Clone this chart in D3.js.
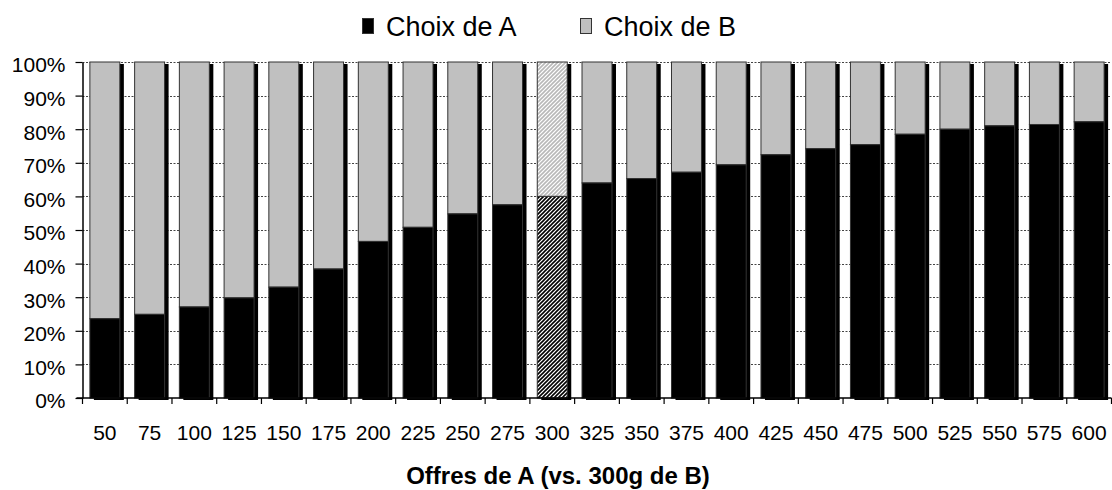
<!DOCTYPE html>
<html>
<head>
<meta charset="utf-8">
<script src="https://cdn.jsdelivr.net/npm/d3@7/dist/d3.min.js"></script>
<style>
  html, body { margin: 0; padding: 0; background: #fff; }
  svg { display: block; font-family: "Liberation Sans", Arial, sans-serif; }
</style>
</head>
<body>
<svg id="chart" width="1112" height="490"></svg>
<script>
// Offers of A (grams) compared against a fixed 300g of B
const offers = ["50","75","100","125","150","175","200","225","250","275","300",
                "325","350","375","400","425","450","475","500","525","550","575","600"];
// Share of respondents choosing A (%)
const choixA = [23.6, 24.9, 27.1, 29.8, 33.0, 38.4, 46.6, 50.8, 54.8, 57.5, 60.0,
                64.0, 65.3, 67.2, 69.4, 72.4, 74.2, 75.4, 78.5, 80.0, 81.0, 81.4, 82.2];
// Share of respondents choosing B (%)
const choixB = [76.4, 75.1, 72.9, 70.2, 67.0, 61.6, 53.4, 49.2, 45.2, 42.5, 40.0,
                36.0, 34.7, 32.8, 30.6, 27.6, 25.8, 24.6, 21.5, 20.0, 19.0, 18.6, 17.8];
const seriesNames = ["Choix de A", "Choix de B"];
const yTicks = [0, 10, 20, 30, 40, 50, 60, 70, 80, 90, 100];
const equalOffer = "300"; // same weight on both sides, drawn hatched
const xTitle = "Offres de A (vs. 300g de B)";

const svg = d3.select("#chart");
const plot = { left: 82.5, right: 1111.5, top: 62, bottom: 398 };

const x = d3.scaleBand()
  .domain(offers)
  .range([plot.left, plot.right])
  .paddingInner(0.33)
  .paddingOuter(0.165);

const y = d3.scaleLinear().domain([0, 100]).range([plot.bottom, plot.top]);

const rows = offers.map((o, i) => ({ offer: o, a: choixA[i], b: choixB[i] }));

// hatch patterns for the equal-weight bar
const defs = svg.append("defs");
function hatch(id, color) {
  const p = defs.append("pattern")
    .attr("id", id)
    .attr("patternUnits", "userSpaceOnUse")
    .attr("width", 4).attr("height", 4);
  p.append("rect").attr("width", 4).attr("height", 4).attr("fill", "#fff");
  p.append("path")
    .attr("d", "M-1,1 l2,-2 M0,4 l4,-4 M3,5 l2,-2")
    .attr("stroke", color).attr("stroke-width", 1.6);
}
hatch("hatchA", "#000");
hatch("hatchB", "#b8b8b8");

// horizontal dotted gridlines
svg.append("g")
  .selectAll("line")
  .data(yTicks.filter(t => t > 0))
  .join("line")
  .attr("x1", plot.left).attr("x2", plot.right)
  .attr("y1", d => Math.round(y(d)) + 0.5).attr("y2", d => Math.round(y(d)) + 0.5)
  .attr("stroke", "#444")
  .attr("stroke-width", 1)
  .attr("stroke-dasharray", "2,1.5");

// drop shadows behind each stacked bar
const shadowDx = 4, shadowDy = 2;
svg.append("g")
  .selectAll("rect")
  .data(rows)
  .join("rect")
  .attr("x", d => x(d.offer) + shadowDx)
  .attr("y", d => y(d.a + d.b) + shadowDy)
  .attr("width", x.bandwidth())
  .attr("height", d => y(0) - y(d.a + d.b))
  .attr("fill", "#000");

// stacked bars
const bars = svg.append("g");
// Choix de B (top segment)
bars.selectAll("rect.b")
  .data(rows)
  .join("rect")
  .attr("class", "b")
  .attr("x", d => x(d.offer))
  .attr("y", d => y(d.a + d.b))
  .attr("width", x.bandwidth())
  .attr("height", d => y(d.a) - y(d.a + d.b))
  .attr("fill", d => d.offer === equalOffer ? "url(#hatchB)" : "#c0c0c0")
  .attr("stroke", "#333")
  .attr("stroke-width", 1);
// Choix de A (bottom segment)
bars.selectAll("rect.a")
  .data(rows)
  .join("rect")
  .attr("class", "a")
  .attr("x", d => x(d.offer))
  .attr("y", d => y(d.a))
  .attr("width", x.bandwidth())
  .attr("height", d => y(0) - y(d.a))
  .attr("fill", d => d.offer === equalOffer ? "url(#hatchA)" : "#000")
  .attr("stroke", "#333")
  .attr("stroke-width", 1);

// y axis
const yAxis = svg.append("g")
  .attr("transform", `translate(${plot.left},0)`)
  .call(d3.axisLeft(y).tickValues(yTicks).tickFormat(d => d + "%").tickSize(7).tickSizeOuter(0));
yAxis.select(".domain").attr("stroke", "#000").attr("stroke-width", 1.5);
yAxis.selectAll(".tick line").attr("stroke", "#000").attr("stroke-width", 1.2);
yAxis.selectAll(".tick text")
  .attr("x", -17)
  .attr("dy", "0.47em")
  .attr("fill", "#000")
  .style("font-size", "21px")
  .style("font-family", "'Liberation Sans', Arial, sans-serif");

// x axis: ticks sit between categories
const xAxisG = svg.append("g").attr("transform", `translate(0,${plot.bottom})`);
xAxisG.append("line")
  .attr("x1", plot.left - 6).attr("x2", plot.right)
  .attr("stroke", "#000").attr("stroke-width", 1.5);
const bounds = offers.map(o => x(o) - x.step() * x.paddingOuter());
bounds.push(plot.right);
xAxisG.selectAll("line.tk")
  .data(bounds)
  .join("line")
  .attr("class", "tk")
  .attr("x1", d => d).attr("x2", d => d)
  .attr("y1", 0).attr("y2", 6)
  .attr("stroke", "#000").attr("stroke-width", 1.2);
xAxisG.selectAll("text")
  .data(offers)
  .join("text")
  .attr("x", d => x(d) + x.bandwidth() / 2)
  .attr("y", 42)
  .attr("text-anchor", "middle")
  .attr("fill", "#000")
  .style("font-size", "21px")
  .text(d => d);

// axis title
svg.append("text")
  .attr("x", 558)
  .attr("y", 484)
  .attr("text-anchor", "middle")
  .attr("font-weight", "bold")
  .style("font-size", "24px")
  .attr("fill", "#000")
  .text(xTitle);

// legend
const legendItems = [
  { name: seriesNames[0], fill: "#000", x: 362 },
  { name: seriesNames[1], fill: "#c0c0c0", x: 580 }
];
const lg = svg.append("g");
const li = lg.selectAll("g").data(legendItems).join("g")
  .attr("transform", d => `translate(${d.x},0)`);
li.append("rect")
  .attr("x", 0.5).attr("y", 18.5)
  .attr("width", 11).attr("height", 15)
  .attr("fill", d => d.fill)
  .attr("stroke", "#333").attr("stroke-width", 1);
li.append("text")
  .attr("x", 24).attr("y", 36)
  .attr("fill", "#000")
  .style("font-size", "27px")
  .text(d => d.name);
</script>
</body>
</html>
